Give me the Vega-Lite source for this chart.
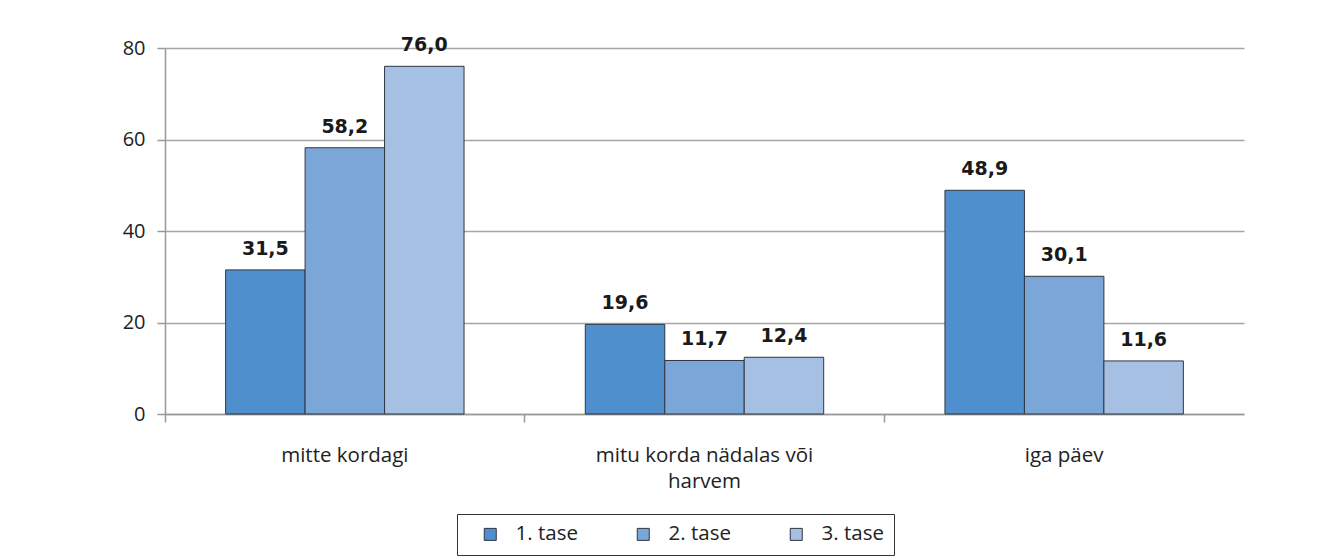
{
  "$schema": "https://vega.github.io/schema/vega-lite/v6.json",
  "width": 1079,
  "height": 366,
  "autosize": {"type": "none"},
  "padding": {"left": 165, "top": 48, "right": 95, "bottom": 144},
  "background": "white",
  "data": {
    "values": [
      {"kategooria": "mitte kordagi", "tase": "1. tase", "vaartus": 31.5},
      {"kategooria": "mitte kordagi", "tase": "2. tase", "vaartus": 58.2},
      {"kategooria": "mitte kordagi", "tase": "3. tase", "vaartus": 76.0},
      {"kategooria": "mitu korda nädalas või harvem", "tase": "1. tase", "vaartus": 19.6},
      {"kategooria": "mitu korda nädalas või harvem", "tase": "2. tase", "vaartus": 11.7},
      {"kategooria": "mitu korda nädalas või harvem", "tase": "3. tase", "vaartus": 12.4},
      {"kategooria": "iga päev", "tase": "1. tase", "vaartus": 48.9},
      {"kategooria": "iga päev", "tase": "2. tase", "vaartus": 30.1},
      {"kategooria": "iga päev", "tase": "3. tase", "vaartus": 11.6}
    ]
  },
  "encoding": {
    "x": {
      "field": "kategooria",
      "type": "nominal",
      "sort": null,
      "title": null,
      "scale": {"paddingInner": 0, "paddingOuter": 0},
      "axis": {
        "bandPosition": 0,
        "labelAngle": 0,
        "labelFont": "Open Sans",
        "labelFontSize": 20.5,
        "labelColor": "#222222",
        "labelBaseline": "top",
        "labelPadding": 23,
        "labelLineHeight": 26,
        "labelLimit": 400,
        "labelExpr": "datum.label == 'mitu korda nädalas või harvem' ? ['mitu korda nädalas või', 'harvem'] : datum.label",
        "tickSize": 8,
        "tickColor": "#999999",
        "tickWidth": 1.5,
        "domainColor": "#999999",
        "domainWidth": 1.5,
        "grid": false
      }
    },
    "xOffset": {
      "field": "tase",
      "type": "nominal",
      "scale": {"paddingInner": 0, "paddingOuter": 0.763}
    },
    "y": {
      "field": "vaartus",
      "type": "quantitative",
      "title": null,
      "scale": {"domain": [0, 80], "nice": false},
      "axis": {
        "values": [0, 20, 40, 60, 80],
        "labelFont": "Open Sans",
        "labelFontSize": 20,
        "labelColor": "#222222",
        "labelPadding": 12,
        "tickSize": 8,
        "tickColor": "#999999",
        "tickWidth": 1.5,
        "domainColor": "#999999",
        "domainWidth": 1.5,
        "grid": true,
        "gridColor": "#a6a6a6",
        "gridWidth": 1.5
      }
    }
  },
  "layer": [
    {
      "mark": {"type": "bar", "stroke": "#2f3540", "strokeWidth": 1},
      "encoding": {
        "color": {
          "field": "tase",
          "type": "nominal",
          "scale": {"domain": ["1. tase", "2. tase", "3. tase"], "range": ["#4f8fcd", "#7ba7d8", "#a6c0e4"]},
          "legend": {
            "title": null,
            "orient": "none",
            "legendX": 292,
            "legendY": 466,
            "direction": "horizontal",
            "symbolType": "square",
            "symbolSize": 144,
            "symbolStrokeColor": "#2f3540",
            "symbolStrokeWidth": 1,
            "symbolOffset": 13,
            "labelFont": "Open Sans",
            "labelFontSize": 20.5,
            "labelColor": "#222222",
            "labelOffset": 15,
            "columnPadding": 42,
            "padding": 10,
            "strokeColor": "#333333"
          }
        }
      }
    },
    {
      "mark": {"type": "text", "baseline": "alphabetic", "dy": -15, "font": "DejaVu Sans", "fontWeight": "bold", "fontSize": 19, "color": "#1a1a1a"},
      "encoding": {
        "text": {"field": "vaartus", "type": "quantitative", "format": ".1f"}
      }
    }
  ],
  "config": {
    "view": {"stroke": null},
    "locale": {"number": {"decimal": ",", "thousands": " ", "grouping": [3], "currency": ["", " €"]}}
  }
}
